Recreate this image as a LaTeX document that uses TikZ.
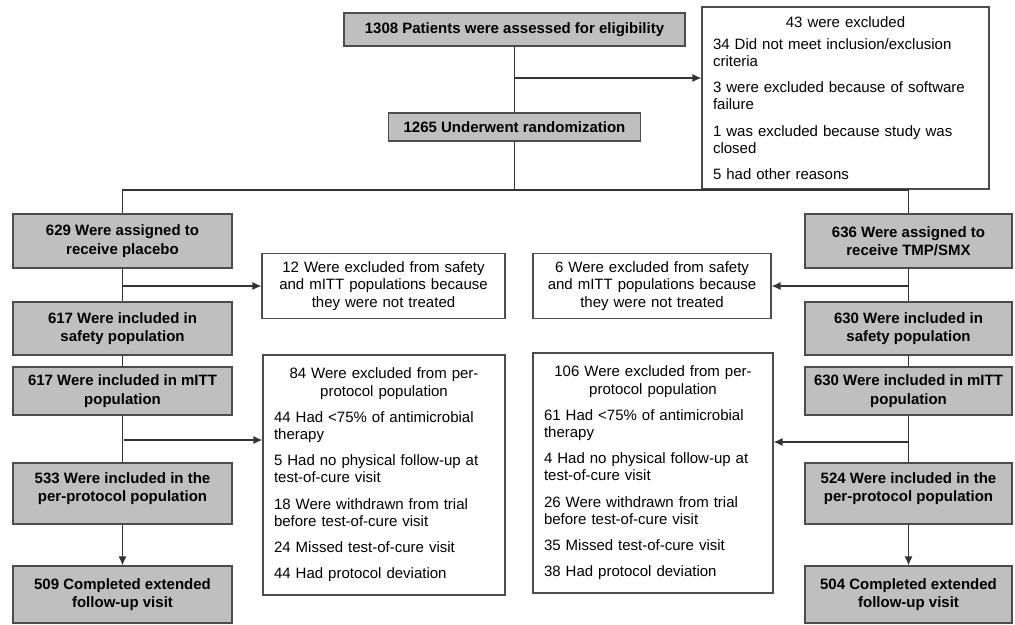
\documentclass[tikz,border=0pt]{standalone}
\usepackage{fontspec}
\setmainfont{Liberation Sans}
\usetikzlibrary{arrows.meta}

\tikzset{
  gbox/.style={draw=black!70, fill=black!25, line width=1.1pt, inner sep=0pt,
    align=center, font=\fontsize{15}{18.5}\selectfont\bfseries},
  wbox/.style={draw=black!70, fill=white, line width=1.1pt, inner sep=0pt,
    align=center, font=\fontsize{15}{17.2}\selectfont},
  lbox/.style={wbox, align=left, inner xsep=11pt},
  flow/.style={draw=black!80, line width=1.3pt},
  tip/.style={-{Latex[length=9pt,width=8pt]}},
}

\begin{document}
\begin{tikzpicture}[x=1pt,y=-1pt]
      \useasboundingbox (0,0) rectangle (1015,624);
      \node[gbox, minimum width=341pt, minimum height=33pt] (elig) at (514.5,29.5)
        {1308 Patients were assessed for eligibility};
      \node[gbox, minimum width=252pt, minimum height=28pt] (rand) at (514.5,127)
        {1265 Underwent randomization};
      \node[lbox, text width=265pt, minimum height=182pt] (excl) at (845.5,98)
        {\setlength{\parskip}{9pt}{\centering 43 were excluded\par}\vspace{-4pt}
         34 Did not meet inclusion/exclusion\\criteria\par
         3 were excluded because of software\\failure\par
         1 was excluded because study was\\closed\par
         5 had other reasons};

      \node[gbox, minimum width=219pt, minimum height=54pt] (plac) at (122.5,241)
        {629 Were assigned to\\receive placebo};
      \node[gbox, minimum width=219pt, minimum height=53pt] (lsafe) at (122.5,328.5)
        {617 Were included in\\safety population};
      \node[gbox, minimum width=219pt, minimum height=48pt] (lmitt) at (122.5,391)
        {617 Were included in mITT\\population};
      \node[gbox, minimum width=219pt, minimum height=61pt] (lpp) at (122.5,493.5)
        {533 Were included in the\\per-protocol population\\[-6pt]\mbox{}};
      \node[gbox, minimum width=219pt, minimum height=57pt] (lfu) at (122.5,594.5)
        {509 Completed extended\\follow-up visit};

      \node[gbox, minimum width=207pt, minimum height=54pt] (tmp) at (908.5,241)
        {636 Were assigned to\\receive TMP/SMX};
      \node[gbox, minimum width=207pt, minimum height=53pt] (rsafe) at (908.5,328.5)
        {630 Were included in\\safety population};
      \node[gbox, minimum width=207pt, minimum height=48pt] (rmitt) at (908.5,391)
        {630 Were included in mITT\\population};
      \node[gbox, minimum width=207pt, minimum height=61pt] (rpp) at (908.5,493.5)
        {524 Were included in the\\per-protocol population\\[-6pt]\mbox{}};
      \node[gbox, minimum width=207pt, minimum height=57pt] (rfu) at (908.5,594.5)
        {504 Completed extended\\follow-up visit};

      \node[wbox, text width=243pt, minimum height=65pt] (lnt) at (383.5,286)
        {12 Were excluded from safety\\and mITT populations because\\they were not treated};
      \node[wbox, text width=238pt, minimum height=65pt] (rnt) at (652,286)
        {6 Were excluded from safety\\and mITT populations because\\they were not treated};

      \node[lbox, text width=220pt, minimum height=240pt] (lpx) at (384,475)
        {\setlength{\parskip}{9pt}{\centering 84 Were excluded from per-\\protocol population\par}
         44 Had <75\% of antimicrobial\\therapy\par
         5 Had no physical follow-up at\\test-of-cure visit\par
         18 Were withdrawn from trial\\before test-of-cure visit\par
         24 Missed test-of-cure visit\par
         44 Had protocol deviation};
      \node[lbox, text width=218pt, minimum height=240pt] (rpx) at (653,473)
        {\setlength{\parskip}{9pt}{\centering 106 Were excluded from per-\\protocol population\par}
         61 Had <75\% of antimicrobial\\therapy\par
         4 Had no physical follow-up at\\test-of-cure visit\par
         26 Were withdrawn from trial\\before test-of-cure visit\par
         35 Missed test-of-cure visit\par
         38 Had protocol deviation};

      \coordinate (b0) at (515,78);
      \coordinate (hub) at (515,190);
      \coordinate (lk) at (124,440);
      \coordinate (rk) at (908,442);

      \draw[flow] (elig.south) -- (elig.south |- rand.north);
      \draw[flow,tip] (b0) -- (b0 -| excl.west);
      \draw[flow] (rand.south) -- (rand.south |- hub);
      \draw[flow] (plac.north) -- (plac.north |- hub) -- (tmp.north |- hub) -- (tmp.north);
      \foreach \a/\b in {plac/lsafe,lsafe/lmitt,lmitt/lpp,tmp/rsafe,rsafe/rmitt,rmitt/rpp}
      \draw[flow] (\a.south) -- (\b.north);
      \foreach \a/\b in {lpp/lfu,rpp/rfu}
      \draw[flow,tip] (\a.south) -- (\b.north);
      \draw[flow,tip] (plac.south |- lnt.west) -- (lnt.west);
      \draw[flow,tip] (tmp.south |- rnt.east) -- (rnt.east);
      \draw[flow,tip] (lk) -- (lk -| lpx.west);
      \draw[flow,tip] (rk) -- (rk -| rpx.east);
    \end{tikzpicture}
\end{document}
